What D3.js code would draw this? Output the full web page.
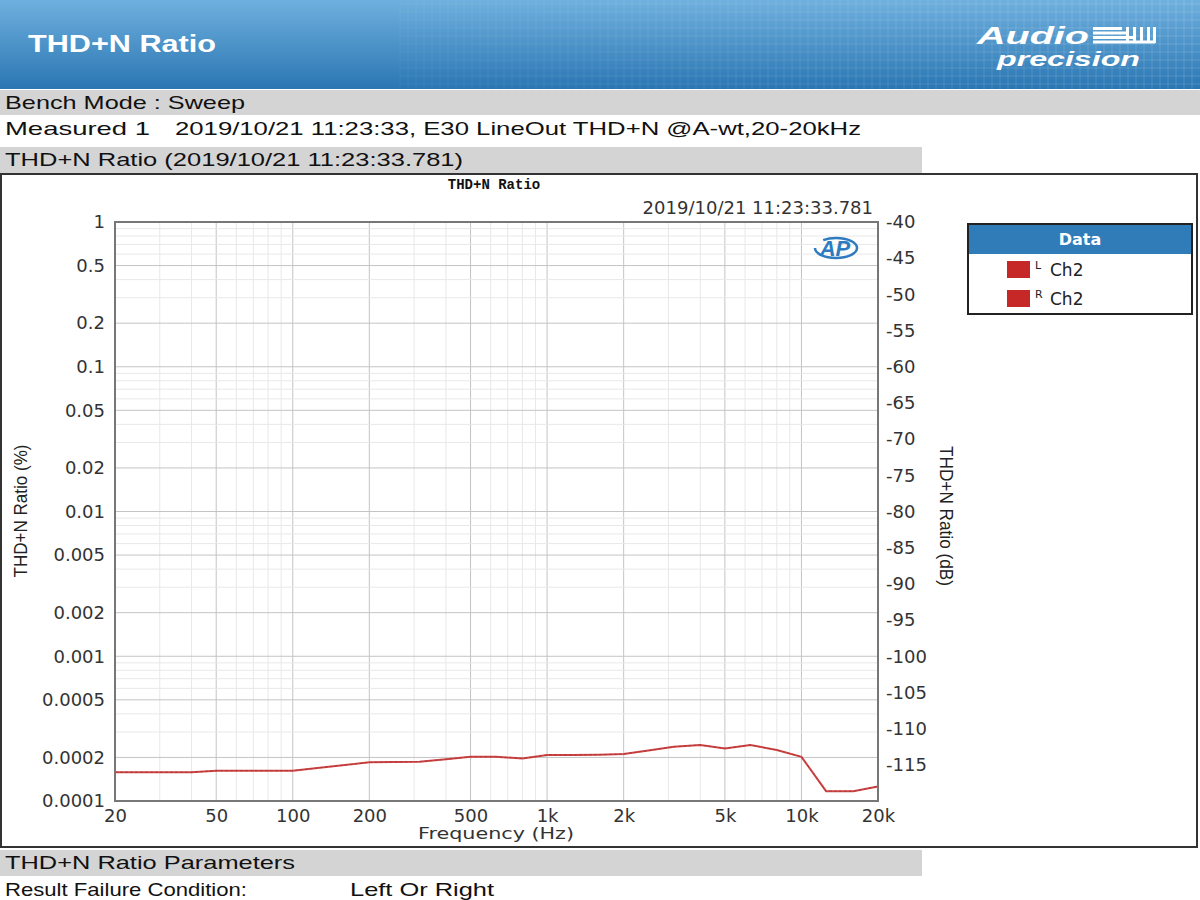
<!DOCTYPE html>
<html>
<head>
<meta charset="utf-8">
<script src="https://cdn.jsdelivr.net/npm/d3@7/dist/d3.min.js"></script>
<style>
    body { margin: 0; background: #fff; }
    svg { display: block; }
    .tick text { font-family: 'DejaVu Sans', Verdana, sans-serif; font-size: 18px; fill: #333; }
</style>
</head>
<body>
<div class="Canvas"></div>
<script>
// sweep frequencies (Hz), 1/3 octave steps
const freqs = [20, 25, 31.5, 40, 50, 63, 80, 100, 125, 160, 200, 250, 315, 400, 500, 630, 800,
    1000, 1250, 1600, 2000, 2500, 3150, 4000, 5000, 6300, 8000, 10000, 12500, 16000, 20000];
// THD+N ratio in %
const chL = [0.000158, 0.000158, 0.000158, 0.000158, 0.000162, 0.000162, 0.000162, 0.000162, 0.000169, 0.000177,
    0.000185, 0.000186, 0.000187, 0.000194, 0.000202, 0.000202, 0.000197, 0.000208, 0.000208, 0.000209,
    0.000211, 0.000223, 0.000237, 0.000244, 0.000231, 0.000244, 0.000225, 0.000202, 0.000117, 0.000117, 0.000126];
const chR = [0.000158, 0.000158, 0.000158, 0.000158, 0.000162, 0.000162, 0.000162, 0.000162, 0.000169, 0.000177,
    0.000185, 0.000186, 0.000187, 0.000194, 0.000202, 0.000202, 0.000197, 0.000208, 0.000208, 0.000209,
    0.000211, 0.000223, 0.000237, 0.000244, 0.000231, 0.000244, 0.000225, 0.000202, 0.000117, 0.000117, 0.000126];

const xTicks = [20, 50, 100, 200, 500, 1000, 2000, 5000, 10000, 20000];
const xTickLabels = ['20', '50', '100', '200', '500', '1k', '2k', '5k', '10k', '20k'];
const yTicks = [1, 0.5, 0.2, 0.1, 0.05, 0.02, 0.01, 0.005, 0.002, 0.001, 0.0005, 0.0002, 0.0001];
const yTickLabels = ['1', '0.5', '0.2', '0.1', '0.05', '0.02', '0.01', '0.005', '0.002', '0.001', '0.0005', '0.0002', '0.0001'];
const dbTicks = [-40, -45, -50, -55, -60, -65, -70, -75, -80, -85, -90, -95, -100, -105, -110, -115];
const legendItems = [{ sup: 'L', name: 'Ch2' }, { sup: 'R', name: 'Ch2' }];

const W = 1200, H = 900;
const plot = { left: 115, right: 878, top: 222, bottom: 801 };
const lineColor = '#d04545';
const boxColor = '#c62828';
const headFont = "'Liberation Sans', Arial, sans-serif";

let svg = d3.select('.Canvas').append('svg').attr('width', W).attr('height', H);
let defs = svg.append('defs');

// header gradient
let grad = defs.append('linearGradient').attr('id', 'hdr').attr('x1', 0).attr('y1', 0).attr('x2', 0).attr('y2', 1);
grad.append('stop').attr('offset', '0%').attr('stop-color', '#6fb0de');
grad.append('stop').attr('offset', '100%').attr('stop-color', '#2a76b3');
svg.append('rect').attr('x', 0).attr('y', 0).attr('width', W).attr('height', 89).attr('fill', 'url(#hdr)');

// faint grid pattern on the right side of header
let fade = defs.append('linearGradient').attr('id', 'fade').attr('x1', 0).attr('y1', 0).attr('x2', 1).attr('y2', 0);
fade.append('stop').attr('offset', '0%').attr('stop-color', '#fff').attr('stop-opacity', 0);
fade.append('stop').attr('offset', '100%').attr('stop-color', '#fff').attr('stop-opacity', 1);
let mask = defs.append('mask').attr('id', 'fadeMask');
mask.append('rect').attr('x', 0).attr('y', 0).attr('width', W).attr('height', 89).attr('fill', 'url(#fade)');
let hgrid = svg.append('g').attr('mask', 'url(#fadeMask)').attr('stroke', '#ffffff').attr('stroke-opacity', 0.15);
for (let gx = 400; gx < W; gx += 8) hgrid.append('line').attr('x1', gx).attr('x2', gx).attr('y1', 0).attr('y2', 89);
for (let gy = 4; gy < 89; gy += 8) hgrid.append('line').attr('x1', 400).attr('x2', W).attr('y1', gy).attr('y2', gy);

svg.append('text').attr('x', 28).attr('y', 52).attr('fill', '#fff')
    .attr('font-family', headFont).attr('font-weight', 'bold').attr('font-size', '23px')
    .attr('textLength', 188).attr('lengthAdjust', 'spacingAndGlyphs').text('THD+N Ratio');

// Audio Precision logo
let logo = svg.append('g').attr('fill', '#fff').attr('font-family', headFont)
    .attr('font-style', 'italic').attr('font-weight', 'bold');
logo.append('text').attr('x', 977).attr('y', 44).attr('font-size', '24px')
    .attr('textLength', 112).attr('lengthAdjust', 'spacingAndGlyphs').text('Audio');
logo.append('text').attr('x', 997).attr('y', 66).attr('font-size', '20px')
    .attr('textLength', 143).attr('lengthAdjust', 'spacingAndGlyphs').text('precision');
[[1093, 1122], [1093, 1128], [1093, 1133], [1093, 1155]].forEach((b, i) => {
    logo.append('rect').attr('x', b[0]).attr('y', 27 + i * 4.5).attr('width', b[1] - b[0]).attr('height', 3);
});
[1126, 1133, 1140, 1147, 1153].forEach((bx) => {
    logo.append('rect').attr('x', bx).attr('y', 27).attr('width', 3).attr('height', 16);
});

// text bands
function band(y, h, w) {
    svg.append('rect').attr('x', 0).attr('y', y).attr('width', w).attr('height', h).attr('fill', '#d4d4d4');
}
function label(x, y, str, len) {
    let t = svg.append('text').attr('x', x).attr('y', y).attr('fill', '#111')
        .attr('font-family', headFont).attr('font-size', '19px').text(str);
    if (len) t.attr('textLength', len).attr('lengthAdjust', 'spacingAndGlyphs');
}
band(90, 25, W);
label(5, 109, 'Bench Mode : Sweep', 240);
label(5, 135, 'Measured 1', 145);
label(175, 135, '2019/10/21 11:23:33, E30 LineOut THD+N @A-wt,20-20kHz', 686);
band(147, 26, 922);
label(5, 166, 'THD+N Ratio (2019/10/21 11:23:33.781)', 458);
band(850, 26, 922);
label(5, 869, 'THD+N Ratio Parameters', 290);
label(5, 896, 'Result Failure Condition:', 242);
label(350, 896, 'Left Or Right', 144);

// chart frame
svg.append('rect').attr('x', 1).attr('y', 174).attr('width', 1196).attr('height', 673)
    .attr('fill', '#fff').attr('stroke', '#333').attr('stroke-width', 2);

svg.append('text').attr('x', 494).attr('y', 189).attr('text-anchor', 'middle')
    .attr('font-family', "'Liberation Mono', 'DejaVu Sans Mono', monospace").attr('font-weight', 'bold')
    .attr('font-size', '14px').attr('fill', '#111').text('THD+N Ratio');
svg.append('text').attr('x', 873).attr('y', 214).attr('text-anchor', 'end')
    .attr('font-family', "'DejaVu Sans', Verdana, sans-serif").attr('font-size', '18px')
    .attr('fill', '#333').text('2019/10/21 11:23:33.781');

// scales
let x = d3.scaleLog().domain([20, 20000]).range([plot.left, plot.right]);
let y = d3.scaleLog().domain([0.0001, 1]).range([plot.bottom, plot.top]);
let yDb = d3.scaleLinear().domain([-120, -40]).range([plot.bottom, plot.top]);

// grid: light lines at every 1..9 step, darker at labelled ticks
let minorX = [];
for (let dec = 10; dec <= 10000; dec *= 10) {
    for (let m = 1; m <= 9; m++) if (m * dec > 20 && m * dec < 20000) minorX.push(m * dec);
}
let minorY = [];
for (let dec = 0.0001; dec < 1; dec *= 10) {
    for (let m = 1; m <= 9; m++) if (m > 1 || dec > 0.0001) minorY.push(m * dec);
}
const isMajor = (ticks, d) => ticks.some((t) => Math.abs(t - d) / t < 1e-6);
let grid = svg.append('g');
grid.selectAll('line.mx').data(minorX).enter().append('line')
    .attr('x1', (d) => x(d)).attr('x2', (d) => x(d)).attr('y1', plot.top).attr('y2', plot.bottom)
    .attr('stroke', (d) => (isMajor(xTicks, d) ? '#c4c4c4' : '#e8e8e8'));
grid.selectAll('line.my').data(minorY).enter().append('line')
    .attr('x1', plot.left).attr('x2', plot.right).attr('y1', (d) => y(d)).attr('y2', (d) => y(d))
    .attr('stroke', (d) => (isMajor(yTicks, d) ? '#c4c4c4' : '#e8e8e8'));

// AP badge
let ap = svg.append('g').attr('transform', 'translate(836,248)');
ap.append('ellipse').attr('rx', 21).attr('ry', 10).attr('fill', 'none')
    .attr('stroke', '#2e7bbf').attr('stroke-width', 2.5).attr('stroke-dasharray', '50,12');
ap.append('text').attr('x', -1).attr('y', 8).attr('text-anchor', 'middle')
    .attr('font-family', headFont).attr('font-style', 'italic').attr('font-weight', 'bold')
    .attr('font-size', '22px').attr('fill', '#2e7bbf').text('AP');

// traces
let line = d3.line().x((d) => x(d[0])).y((d) => y(d[1]));
svg.append('path').datum(d3.zip(freqs, chL)).attr('d', line)
    .attr('fill', 'none').attr('stroke', lineColor).attr('stroke-width', 2);
svg.append('path').datum(d3.zip(freqs, chR)).attr('d', line)
    .attr('fill', 'none').attr('stroke', '#a83232').attr('stroke-width', 0.8).attr('stroke-dasharray', '3,2');

// plot frame
svg.append('rect').attr('x', plot.left).attr('y', plot.top)
    .attr('width', plot.right - plot.left).attr('height', plot.bottom - plot.top)
    .attr('fill', 'none').attr('stroke', '#777').attr('stroke-width', 2);

// axes
let xAxis = svg.append('g').attr('transform', `translate(0,${plot.bottom})`)
    .call(d3.axisBottom(x).tickValues(xTicks).tickFormat((d, i) => xTickLabels[i]).tickSize(0).tickPadding(8));
let yAxis = svg.append('g').attr('transform', `translate(${plot.left},0)`)
    .call(d3.axisLeft(y).tickValues(yTicks).tickFormat((d, i) => yTickLabels[i]).tickSize(0).tickPadding(10));
let dbAxis = svg.append('g').attr('transform', `translate(${plot.right},0)`)
    .call(d3.axisRight(yDb).tickValues(dbTicks).tickFormat(d3.format('d')).tickSize(0).tickPadding(8));
[xAxis, yAxis, dbAxis].forEach((a) => a.select('.domain').remove());
dbAxis.selectAll('.tick text').text((d) => String(d));

// axis titles
const narrow = "'Liberation Sans Narrow', 'Arial Narrow', 'Liberation Sans', sans-serif";
svg.append('text').attr('transform', 'translate(27,511) rotate(-90)').attr('text-anchor', 'middle')
    .attr('font-family', narrow).attr('font-size', '18px').attr('fill', '#222')
    .attr('textLength', 133).attr('lengthAdjust', 'spacingAndGlyphs').text('THD+N Ratio (%)');
svg.append('text').attr('transform', 'translate(940,516) rotate(90)').attr('text-anchor', 'middle')
    .attr('font-family', narrow).attr('font-size', '18px').attr('fill', '#222')
    .attr('textLength', 140).attr('lengthAdjust', 'spacingAndGlyphs').text('THD+N Ratio (dB)');
svg.append('text').attr('x', 496).attr('y', 839).attr('text-anchor', 'middle')
    .attr('font-family', "'DejaVu Sans', Verdana, sans-serif").attr('font-size', '16px').attr('fill', '#333')
    .attr('textLength', 156).attr('lengthAdjust', 'spacingAndGlyphs').text('Frequency (Hz)');

// legend
let lg = svg.append('g').attr('transform', 'translate(968,224)');
lg.append('rect').attr('width', 224).attr('height', 90).attr('fill', '#fff').attr('stroke', '#222').attr('stroke-width', 2);
lg.append('rect').attr('x', 1).attr('y', 1).attr('width', 222).attr('height', 29).attr('fill', '#2f7cb9');
lg.append('text').attr('x', 112).attr('y', 21).attr('text-anchor', 'middle').attr('fill', '#fff')
    .attr('font-family', "'DejaVu Sans', Verdana, sans-serif").attr('font-weight', 'bold').attr('font-size', '16px')
    .text('Data');
let items = lg.selectAll('g.item').data(legendItems).enter().append('g')
    .attr('transform', (d, i) => `translate(0,${37 + i * 29})`);
items.append('rect').attr('x', 39).attr('width', 23).attr('height', 17).attr('fill', boxColor);
items.append('text').attr('x', 67).attr('y', 8).attr('font-family', "'DejaVu Sans', sans-serif")
    .attr('font-size', '11px').attr('fill', '#222').text((d) => d.sup);
items.append('text').attr('x', 82).attr('y', 15).attr('font-family', "'DejaVu Sans', Verdana, sans-serif")
    .attr('font-size', '17px').attr('fill', '#222').text((d) => d.name);
</script>
</body>
</html>
